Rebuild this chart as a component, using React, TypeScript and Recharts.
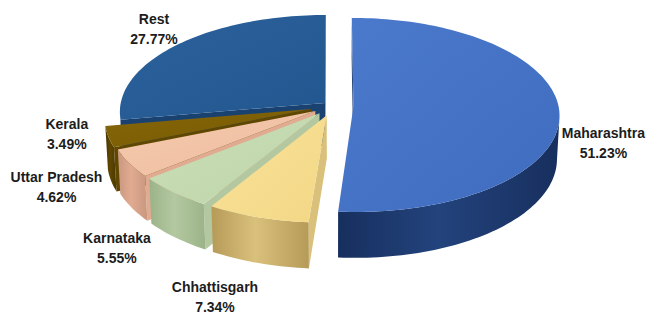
import React from "react";
import { Pie, PieChart } from "recharts";

const states = ["Maharashtra", "Chhattisgarh", "Karnataka", "Uttar Pradesh", "Kerala", "Rest"];
const shares = [51.23, 7.34, 5.55, 4.62, 3.49, 27.77];

const data = states.map((name, i) => ({ name, value: shares[i] }));

// look of each slice (same order as states)
const topLight = ["#4b79cb", "#fae29a", "#cadfb6", "#f5c9ae", "#86670a", "#2c629c"];
const topBase = ["#3f6cbf", "#f2d785", "#bed4a9", "#eebd9f", "#765800", "#22568f"];
const wallDark = ["#172f5e", "#b69b58", "#9cb389", "#c9977f", "#4a3700", "#0f2c4f"];
const wallMid = ["#23437d", "#d9c07b", "#b3c8a0", "#e0ab91", "#5f4700", "#1a4270"];
const explode = [0.1, 0.1, 0.1, 0.1, 0.11, 0.05];
// back to front
const drawOrder = [5, 0, 4, 3, 2, 1];
const labelNudge: [number, number][] = [
  [-16, 32],
  [-22, 50],
  [-20, 33],
  [-13, 9],
  [0, -11],
  [7, 2],
];

const RAD = Math.PI / 180;
const TILT = 28 * RAD;
const DIST = 10;
const DEPTH = 0.24;
const sT = Math.sin(TILT);
const cT = Math.cos(TILT);

function project(cx: number, cy: number, R: number, X: number, Y: number, Z: number): [number, number] {
  const depth = DIST - Y * sT + Z * cT;
  const yc = Y * cT + Z * sT;
  return [cx + (R * DIST * X) / depth, cy - (R * DIST * yc) / depth];
}

const toPts = (arr: [number, number][]) => arr.map((p) => p[0].toFixed(2) + "," + p[1].toFixed(2)).join(" ");

function Slice3D(props: any) {
  const { cx, cy, outerRadius, startAngle, endAngle, idx } = props;
  const R = outerRadius;
  const a0 = (90 - startAngle) * RAD;
  const a1 = (90 - endAngle) * RAD;
  const lo = Math.min(a0, a1);
  const hi = Math.max(a0, a1);
  const mid = (lo + hi) / 2;
  const ox = explode[idx] * Math.sin(mid);
  const oz = explode[idx] * Math.cos(mid);
  const P = (r: number, t: number, Y: number) =>
    project(cx, cy, R, ox + r * Math.sin(t), Y, oz + r * Math.cos(t));

  const steps = Math.max(2, Math.ceil((hi - lo) / (1.5 * RAD)));
  const ts = Array.from({ length: steps + 1 }, (_, k) => lo + ((hi - lo) * k) / steps);
  const B = -DEPTH;

  const top: [number, number][] = [P(0, 0, 0), ...ts.map((t) => P(1, t, 0))];

  // outer wall, only where it faces the camera
  const vis = (t: number) => -ox * Math.sin(t) - oz * Math.cos(t) - 1 - DIST * cT * Math.cos(t) > 0;
  const walls: [number, number][][] = [];
  let run: number[] = [];
  ts.forEach((t, k) => {
    if (vis(t)) {
      if (run.length === 0 && k > 0) run.push(ts[k - 1]);
      run.push(t);
    } else if (run.length) {
      run.push(t);
      walls.push([...run.map((u) => P(1, u, 0)), ...run.slice().reverse().map((u) => P(1, u, B))]);
      run = [];
    }
  });
  if (run.length) walls.push([...run.map((u) => P(1, u, 0)), ...run.slice().reverse().map((u) => P(1, u, B))]);

  // radial cut faces
  const faces: [number, number][][] = [];
  if (ox * Math.cos(lo) - Math.sin(lo) * (DIST * cT + oz) > 0)
    faces.push([P(0, lo, 0), P(1, lo, 0), P(1, lo, B), P(0, lo, B)]);
  if (-ox * Math.cos(hi) + Math.sin(hi) * (DIST * cT + oz) > 0)
    faces.push([P(0, hi, 0), P(1, hi, 0), P(1, hi, B), P(0, hi, B)]);

  return (
    <g>
      <defs>
        <linearGradient id={`top-${idx}`} x1="0" y1="0" x2="1" y2="1">
          <stop offset="0%" stopColor={topLight[idx]} />
          <stop offset="100%" stopColor={topBase[idx]} />
        </linearGradient>
        <linearGradient id={`wall-${idx}`} x1="0" y1="0" x2="1" y2="0">
          <stop offset="0%" stopColor={wallDark[idx]} />
          <stop offset="45%" stopColor={wallMid[idx]} />
          <stop offset="100%" stopColor={wallDark[idx]} />
        </linearGradient>
      </defs>
      {faces.map((f, k) => (
        <polygon key={"f" + k} points={toPts(f)} fill={wallMid[idx]} />
      ))}
      {walls.map((w, k) => (
        <polygon key={"w" + k} points={toPts(w)} fill={`url(#wall-${idx})`} />
      ))}
      <polygon points={toPts(top)} fill={`url(#top-${idx})`} />
    </g>
  );
}

const sliceShape = (layer: number) => (props: any) => {
  const i = states.indexOf(props.payload?.name ?? props.name);
  if (i !== layer) return <g />;
  return <Slice3D {...props} idx={i} />;
};

const renderLabel = (props: any) => {
  const name = props.payload?.name ?? props.name;
  const i = states.indexOf(name);
  const t = (90 - props.midAngle) * RAD;
  const r = 1.1 + explode[i];
  const [sx, sy] = project(props.cx, props.cy, props.outerRadius, r * Math.sin(t), 0, r * Math.cos(t));
  const pct = shares[i].toFixed(2) + "%";
  const w = Math.max(name.length, pct.length) * 7.2;
  const x = sx + (w / 2) * Math.sin(t) + labelNudge[i][0];
  const y = sy - 19 * Math.cos(t) + labelNudge[i][1];
  return (
    <text
      key={name}
      x={x}
      y={y}
      textAnchor="middle"
      fontFamily="'Liberation Sans', Arial, sans-serif"
      fontWeight="bold"
      fontSize={14}
      fill="#1c1c1c"
    >
      <tspan x={x} y={y - 5}>
        {name}
      </tspan>
      <tspan x={x} y={y + 15}>
        {pct}
      </tspan>
    </text>
  );
};

export default function App() {
  return (
    <div style={{ position: "absolute", left: 0, top: 0, background: "#fff" }}>
      <PieChart width={647} height={316} margin={{ top: 0, right: 0, bottom: 0, left: 0 }}>
        {drawOrder.map((layer, k) => (
          <Pie
            key={layer}
            data={data}
            dataKey="value"
            nameKey="name"
            cx={333}
            cy={106}
            outerRadius={205}
            startAngle={90}
            endAngle={-270}
            stroke="none"
            isAnimationActive={false}
            shape={sliceShape(layer)}
            label={k === drawOrder.length - 1 ? renderLabel : false}
            labelLine={false}
          />
        ))}
      </PieChart>
    </div>
  );
}
